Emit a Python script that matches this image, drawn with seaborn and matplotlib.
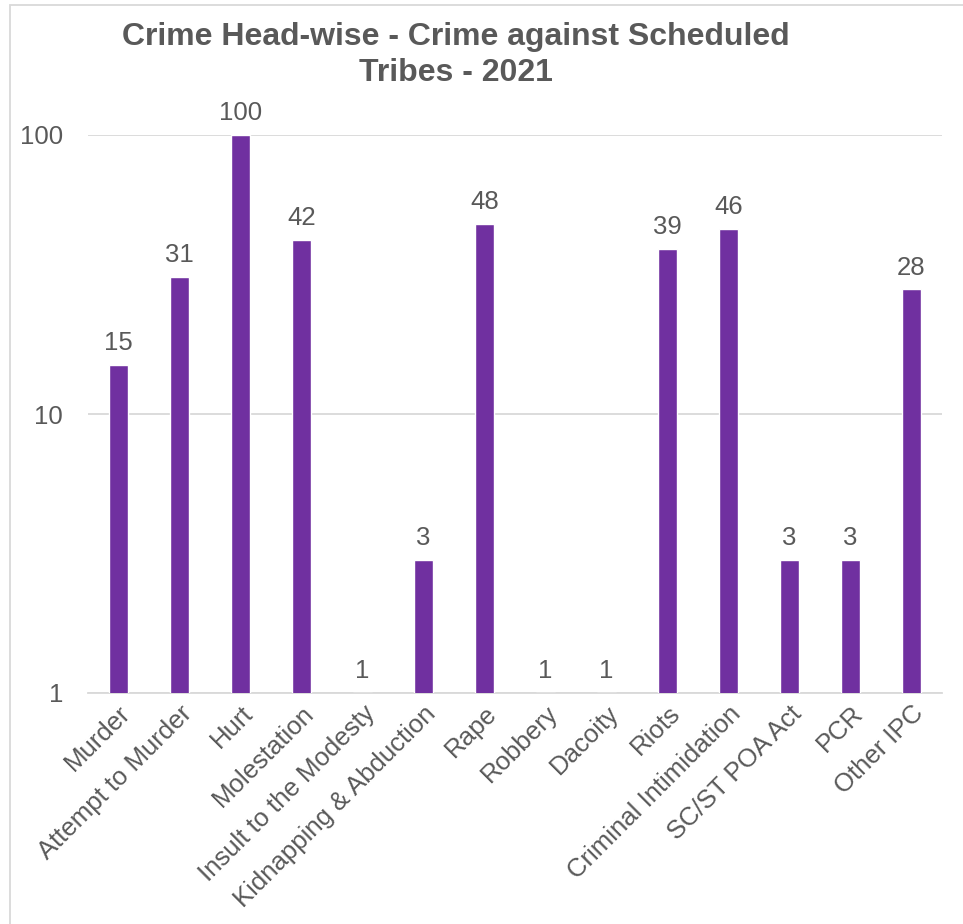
import matplotlib
matplotlib.use("Agg")
import matplotlib.pyplot as plt
import seaborn as sns
import pandas as pd
from matplotlib.patches import Rectangle

# Data
categories = ["Murder", "Attempt to Murder", "Hurt", "Molestation",
              "Insult to the Modesty", "Kidnapping & Abduction", "Rape",
              "Robbery", "Dacoity", "Riots", "Criminal Intimidation",
              "SC/ST POA Act", "PCR", "Other IPC"]
cases = [15, 31, 100, 42, 1, 3, 48, 1, 1, 39, 46, 3, 3, 28]
y_ticks = [1, 10, 100]
y_tick_labels = ["1", "10", "100"]

df = pd.DataFrame({"crime": categories, "cases": cases})

sns.set_style("white")
plt.rcParams["font.family"] = ["Liberation Sans", "DejaVu Sans"]

text_col = "#595959"
bar_col = "#7030A0"
grid_col = "#D9D9D9"
fs = 18.5

fig = plt.figure(figsize=(9.63, 9.24), dpi=100)
ax = fig.add_axes([88 / 963, 1 - 693 / 924, 854 / 963, 558 / 924])

sns.barplot(data=df, x="crime", y="cases", color=bar_col, width=0.31,
            saturation=1, ax=ax, zorder=3)
ax.set_yscale("log")

ax.set_ylim(1, 100)
ax.set_xlim(-0.5, len(categories) - 0.5)
ax.set_yticks(y_ticks)
ax.set_yticklabels(y_tick_labels)
ax.minorticks_off()
ax.yaxis.grid(True, color=grid_col, linewidth=1.3, zorder=0)
ax.set_axisbelow(True)
for s in ["top", "right", "left"]:
    ax.spines[s].set_visible(False)
ax.spines["bottom"].set_color(grid_col)
ax.spines["bottom"].set_linewidth(1.3)

ax.set_xlabel("")
ax.set_ylabel("")
ax.tick_params(axis="y", length=0, pad=18, labelsize=fs, labelcolor=text_col)
ax.tick_params(axis="x", length=0, pad=6, labelsize=fs, labelcolor=text_col)
plt.setp(ax.get_xticklabels(), rotation=45, ha="right", rotation_mode="anchor")

# value labels
ax.bar_label(ax.containers[0], labels=[str(v) for v in cases],
             padding=7, fontsize=fs, color=text_col)

# title
fig.text(456 / 963, 1 - 37 / 924, "Crime Head-wise - Crime against Scheduled",
         ha="center", va="center", fontsize=23, fontweight="bold", color=text_col)
fig.text(456 / 963, 1 - 73 / 924, "Tribes - 2021",
         ha="center", va="center", fontsize=23, fontweight="bold", color=text_col)

# chart area border
fig.patches.append(Rectangle((10 / 963, -0.1), 1.2, 1 - 5 / 924 + 0.1,
                             transform=fig.transFigure, fill=False,
                             edgecolor="#D9D9D9", linewidth=1.3))

fig.savefig("out.png", dpi=100)
